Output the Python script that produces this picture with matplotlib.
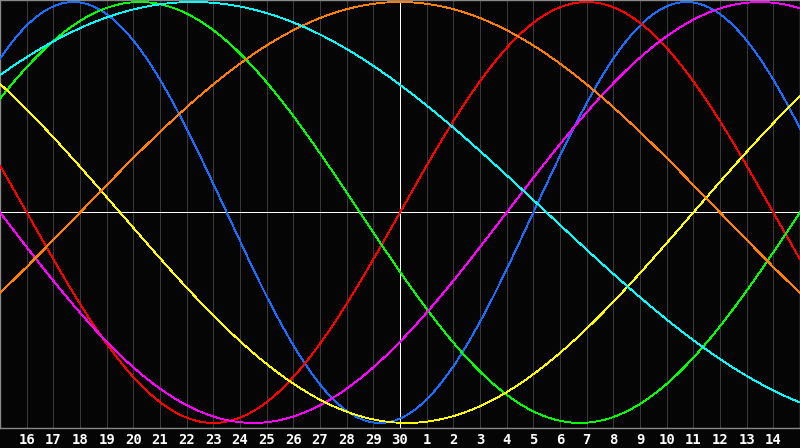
import numpy as np
import matplotlib
matplotlib.use("Agg")
import matplotlib.pyplot as plt

# ============================
# Data: biorhythm cycles
# ============================
cycle_names = ["physical", "emotional", "intellectual", "intuitive",
               "aesthetic", "awareness", "spiritual"]
periods = [23, 28, 33, 38, 43, 48, 53]          # cycle length in days
phase_today = [18, 0, 18, 34, 32, 12, 21]       # days into cycle on the marked day
colors = ["#1a6eff", "#ff0000", "#00ff00", "#ff00ff",
          "#ffff00", "#ff8000", "#00ffff"]

# day offsets around the marked day (30th) and their labels
day_offsets = list(range(-14, 15))
day_labels = [str(d) for d in range(16, 31)] + [str(d) for d in range(1, 15)]

# ============================
# Figure
# ============================
fig = plt.figure(figsize=(8, 4.48), dpi=100, facecolor="#050505")
ax = fig.add_axes([0, 20 / 448, 1, 428 / 448], facecolor="#050505")

t = np.linspace(-15, 15, 1201)

# day grid
for d in day_offsets:
    ax.axvline(d, color="#3a3a3a", lw=0.7, zorder=1, antialiased=False)

# zero line and today marker
ax.axhline(0, color="white", lw=0.7, zorder=2, antialiased=False)
ax.axvline(0, color="white", lw=0.7, zorder=2, antialiased=False)

for P, ph, c in zip(periods, phase_today, colors):
    v = np.sin(2 * np.pi * (ph + t) / P)
    ax.plot(t, v, color=c, lw=0.6, zorder=3, antialiased=False)

ax.set_xlim(-15, 15)
ax.set_ylim(-1.024, 1.0095)
ax.set_xticks(day_offsets)
ax.set_xticklabels(day_labels, color="white", fontsize=10,
                   fontweight="bold", family="DejaVu Sans Mono")
ax.tick_params(axis="x", length=0, pad=3.5)
ax.set_yticks([])
for s in ax.spines.values():
    s.set_color("#888888")
    s.set_linewidth(1.0)

fig.savefig("out.png", dpi=100, facecolor=fig.get_facecolor())
